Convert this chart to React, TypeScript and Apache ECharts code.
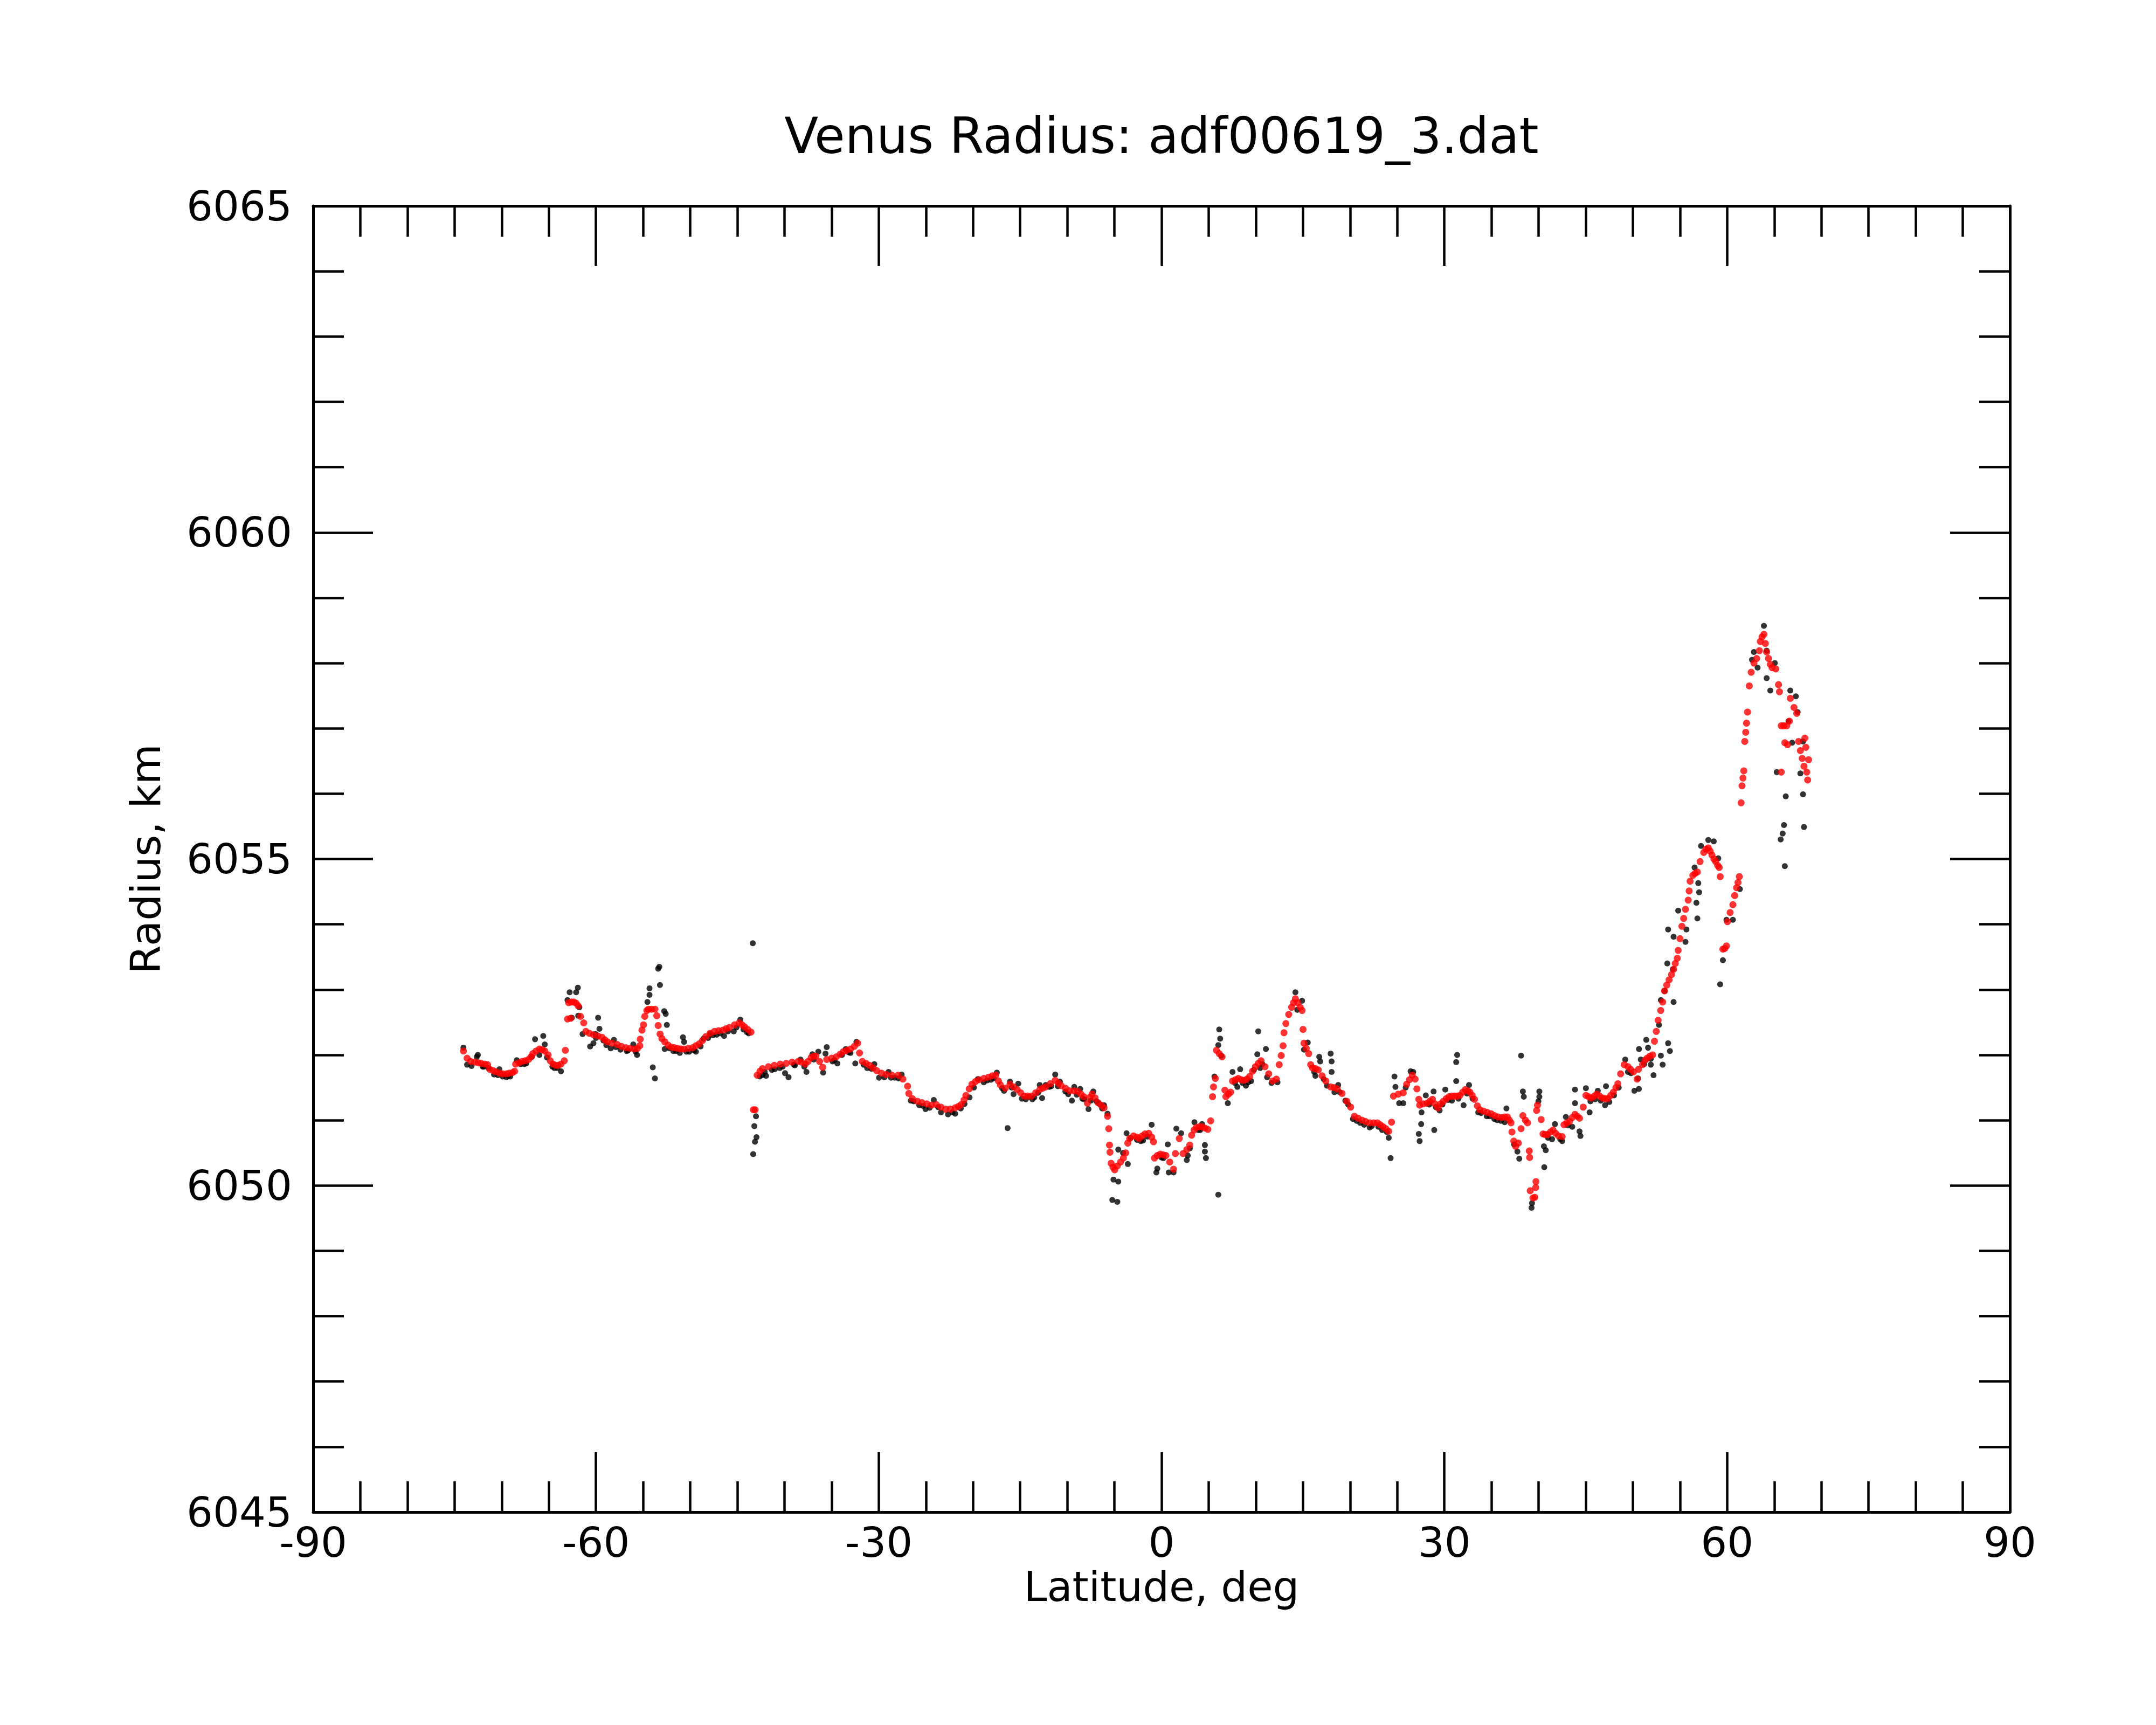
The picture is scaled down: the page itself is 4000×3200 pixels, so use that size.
import React, { useEffect, useRef } from "react";
import * as echarts from "echarts";

const titleText = "Venus Radius: adf00619_3.dat";
const xName = "Latitude, deg";
const yName = "Radius, km";
const xMin = -90, xMax = 90, xStep = 30;
const yMin = 6045, yMax = 6065, yStep = 5;

// Smoothed radius (red), [latitude, radius]
const redSouth = [
  [-74.06,6052.06],[-73.67,6051.95],[-73.3,6051.9],[-72.87,6051.89],[-72.5,6051.88],[-72.18,6051.87],[-71.8,6051.86],[-71.5,6051.85],[-71.27,6051.78],[-70.9,6051.76],[-70.58,6051.74],[-70.2,6051.72],[-69.89,6051.71],[-69.5,6051.71],[-69.2,6051.72],[-68.85,6051.73],[-68.63,6051.75],[-68.52,6051.86],[-68.15,6051.88],[-67.83,6051.9],[-67.5,6051.91],[-67.15,6051.93],[-66.9,6051.97],[-66.69,6052.02],[-66.35,6052.06],[-66.0,6052.09],[-65.7,6052.08],[-65.43,6052.06],[-65.08,6052.0],[-64.85,6051.91],[-64.55,6051.86],[-64.28,6051.84],[-64.0,6051.84],[-63.71,6051.86],[-63.36,6051.91],[-63.25,6052.07],[-63.02,6052.55],[-62.68,6052.56],[-62.9,6052.8],[-62.6,6052.81],[-62.33,6052.81],[-62.1,6052.79],[-61.88,6052.75],[-61.65,6052.59],[-61.3,6052.49],[-61.07,6052.36],[-60.7,6052.33],[-60.27,6052.31],[-59.8,6052.29],[-59.36,6052.27],[-59.05,6052.23],[-58.78,6052.2],[-58.3,6052.18],[-57.75,6052.16],[-57.3,6052.13],[-56.84,6052.11],[-56.4,6052.1],[-55.92,6052.09],[-55.6,6052.1],[-55.35,6052.14],[-55.3,6052.24],[-55.12,6052.38],[-54.96,6052.46],[-54.82,6052.59],[-54.6,6052.68],[-54.43,6052.7],[-54.1,6052.7],[-53.74,6052.7],[-53.55,6052.6],[-53.4,6052.45],[-53.2,6052.32],[-53.0,6052.25],[-52.7,6052.2],[-52.35,6052.15],[-52.0,6052.12],[-51.7,6052.11],[-51.34,6052.1],[-51.0,6052.09],[-50.65,6052.09],[-50.2,6052.1],[-49.73,6052.11],[-49.4,6052.14],[-49.05,6052.17],[-48.7,6052.22],[-48.36,6052.28],[-47.9,6052.33],[-47.44,6052.36],[-47.0,6052.37],[-46.53,6052.38],[-46.2,6052.4],[-45.84,6052.42],[-45.3,6052.46],[-44.81,6052.49],[-44.5,6052.46],[-44.24,6052.43],[-43.9,6052.39],[-43.55,6052.35],[-43.3,6051.16],[-43.12,6051.16]
];
const redMid = [
  [-42.9,6051.69],[-42.6,6051.75],[-42.34,6051.79],[-41.7,6051.82],[-41.08,6051.84],[-40.45,6051.86],[-39.82,6051.87],[-39.2,6051.89],[-38.55,6051.9],[-38.2,6051.89],[-37.8,6051.86],[-37.5,6051.9],[-37.17,6051.96],[-36.9,6051.98],[-36.66,6051.98],[-36.28,6051.9],[-35.95,6051.81],[-35.52,6051.93],[-35.0,6051.95],[-34.51,6051.97],[-34.1,6052.01],[-33.76,6052.05],[-33.4,6052.07],[-33.0,6052.09],[-32.6,6052.13],[-32.24,6052.18],[-32.04,6052.03],[-31.74,6051.9],[-31.35,6051.87],[-30.98,6051.84],[-30.6,6051.8],[-30.22,6051.76],[-29.7,6051.72],[-29.21,6051.7],[-28.6,6051.69],[-27.95,6051.69],[-27.44,6051.63],[-26.94,6051.52],[-26.81,6051.41],[-26.43,6051.33],[-25.9,6051.29],[-25.42,6051.27],[-24.9,6051.25],[-24.41,6051.23],[-23.9,6051.24],[-23.4,6051.2],[-22.9,6051.17],[-22.4,6051.17],[-21.89,6051.19],[-21.55,6051.21],[-21.26,6051.24],[-20.95,6051.31],[-20.75,6051.38],[-20.4,6051.48],[-20.12,6051.55],[-19.75,6051.59],[-19.36,6051.62],[-18.85,6051.64],[-18.35,6051.66],[-17.95,6051.68],[-17.59,6051.69],[-17.3,6051.6],[-17.09,6051.54],[-16.58,6051.49],[-16.08,6051.55],[-15.7,6051.51],[-15.32,6051.47],[-14.95,6051.42],[-14.56,6051.37],[-14.2,6051.37],[-13.81,6051.37],[-13.35,6051.42],[-12.92,6051.47],[-12.6,6051.49],[-12.29,6051.51],[-11.8,6051.56],[-11.28,6051.61],[-10.95,6051.57],[-10.65,6051.53],[-10.2,6051.49],[-9.77,6051.45],[-9.3,6051.45],[-8.88,6051.44],[-8.55,6051.4],[-8.25,6051.36],[-7.87,6051.26],[-7.6,6051.35],[-7.37,6051.4],[-7.05,6051.34],[-6.74,6051.27],[-6.4,6051.23],[-6.1,6051.19],[-5.73,6051.06],[-5.6,6050.87],[-5.52,6050.62],[-5.47,6050.51],[-5.35,6050.34],[-5.15,6050.28],[-4.97,6050.24]
];
const redEquator = [
  [-4.7,6050.3],[-4.35,6050.36],[-4.05,6050.42],[-3.8,6050.5],[-3.58,6050.65],[-3.38,6050.72],[-2.97,6050.76],[-2.6,6050.74],[-2.37,6050.72],[-2.05,6050.76],[-1.76,6050.79],[-1.36,6050.8],[-1.05,6050.74],[-0.85,6050.67],[-0.75,6050.42],[-0.45,6050.46],[-0.14,6050.48],[0.16,6050.47],[0.46,6050.46],[0.87,6050.36],[1.27,6050.25],[1.47,6050.49],[1.88,6050.72],[2.28,6050.49],[2.68,6050.55],[2.99,6050.62],[3.19,6050.77],[3.45,6050.85],[3.69,6050.89],[4.0,6050.9],[4.3,6050.9],[4.6,6050.88],[4.91,6050.86],[5.21,6050.99],[5.41,6051.36],[5.51,6051.51],[5.71,6051.64],[5.82,6052.07],[6.12,6052.02],[6.42,6051.97],[6.72,6051.46],[6.83,6051.36],[7.1,6051.4],[7.33,6051.43],[7.53,6051.6],[7.85,6051.62],[8.14,6051.64],[8.45,6051.62],[8.75,6051.61],[9.05,6051.63],[9.35,6051.67],[9.65,6051.75],[9.96,6051.82],[10.26,6051.87],[10.56,6051.91],[10.97,6051.82],[11.37,6051.71],[11.78,6051.6],[12.18,6051.63],[12.48,6051.85],[12.69,6051.99],[12.89,6052.14],[12.99,6052.34],[13.19,6052.48],[13.49,6052.62],[13.8,6052.73],[14.0,6052.8],[14.2,6052.86],[14.45,6052.8],[14.71,6052.73],[14.91,6052.68],[15.01,6052.39],[15.11,6052.18],[15.35,6052.1],[15.61,6052.02],[15.82,6051.85],[16.02,6051.8],[16.33,6051.79],[16.63,6051.77],[17.03,6051.68],[17.43,6051.6],[17.94,6051.51],[18.3,6051.5],[18.64,6051.48],[19.15,6051.41],[19.65,6051.29],[20.06,6051.2],[20.46,6051.06],[20.85,6051.03],[21.27,6051.0],[21.65,6050.98],[22.08,6050.96],[22.5,6050.96],[22.89,6050.96],[23.2,6050.93],[23.49,6050.9],[23.8,6050.87],[24.1,6050.83],[24.4,6050.97]
];
const redNorth = [
  [24.6,6051.37],[25.11,6051.4],[25.64,6051.42],[26.0,6051.55],[26.3,6051.62],[26.6,6051.69],[26.9,6051.63],[27.09,6051.48],[27.29,6051.32],[27.38,6051.23],[27.75,6051.25],[28.16,6051.26],[28.45,6051.29],[28.74,6051.32],[29.0,6051.25],[29.32,6051.19],[29.6,6051.25],[29.9,6051.29],[30.2,6051.33],[30.49,6051.36],[30.8,6051.37],[31.07,6051.37],[31.35,6051.37],[31.65,6051.38],[31.95,6051.43],[32.23,6051.47],[32.5,6051.45],[32.71,6051.43],[32.95,6051.38],[33.2,6051.32],[33.5,6051.22],[33.78,6051.16],[34.15,6051.14],[34.55,6051.12],[34.95,6051.1],[35.33,6051.07],[35.7,6051.05],[36.11,6051.04],[36.4,6051.05],[36.69,6051.05],[36.9,6051.0],[37.07,6050.96],[37.17,6050.82],[37.37,6050.68],[37.56,6050.6],[37.85,6050.65],[38.14,6050.87],[38.33,6051.07],[38.6,6051.0],[38.82,6050.96],[39.01,6050.53],[39.05,6050.43],[39.11,6049.92],[39.4,6049.81],[39.6,6049.82],[39.69,6049.97],[39.72,6050.06],[39.79,6051.15],[39.88,6051.23],[40.27,6051.01],[40.47,6050.79],[40.7,6050.78],[40.95,6050.78],[41.25,6050.82],[41.53,6050.85],[41.8,6050.8],[42.11,6050.76],[42.5,6050.75],[42.69,6050.93],[43.0,6050.96],[43.28,6050.98],[43.56,6051.04],[43.86,6051.09],[44.1,6051.06],[44.34,6051.03],[44.73,6051.2],[45.02,6051.38],[45.3,6051.36],[45.6,6051.34],[45.9,6051.37],[46.18,6051.4],[46.47,6051.37],[46.76,6051.34],[47.05,6051.33],[47.35,6051.33],[47.65,6051.38],[47.93,6051.43],[48.2,6051.5],[48.41,6051.56],[48.7,6051.71],[49.09,6051.85],[49.48,6051.82],[49.75,6051.78],[50.06,6051.74],[50.45,6051.63],[50.6,6051.78],[51.03,6051.85],[51.3,6051.92],[51.51,6051.95],[51.8,6051.98],[52.09,6052.0],[52.29,6052.21],[52.48,6052.36],[52.68,6052.53],[52.95,6052.68],[53.16,6052.81],[53.36,6052.98],[53.6,6053.07],[53.84,6053.15],[54.1,6053.23],[54.32,6053.31],[54.5,6053.4],[54.71,6053.48],[54.8,6053.6],[55.0,6053.78],[55.2,6053.97],[55.39,6054.09],[55.58,6054.23],[55.87,6054.37],[55.97,6054.51],[56.07,6054.66],[56.36,6054.75],[56.6,6054.78],[56.84,6054.8],[57.13,6054.96],[57.52,6055.1],[57.75,6055.15],[58.0,6055.17],[58.2,6055.12],[58.39,6055.06],[58.6,6055.0],[58.78,6054.96],[59.0,6054.9],[59.16,6054.87],[59.26,6054.73],[59.55,6053.62],[59.75,6053.63],[59.93,6053.67],[60.03,6054.04],[60.32,6054.18],[60.61,6054.3],[60.8,6054.44],[61.0,6054.56],[61.15,6054.64],[61.29,6054.73]
];
const redPolar = [
  [61.48,6055.86],[61.58,6056.12],[61.68,6056.24],[61.77,6056.35],[61.87,6056.8],[61.97,6056.94],[62.06,6057.08],[62.16,6057.25],[62.35,6057.65],[62.55,6057.86],[62.84,6058.0],[63.13,6058.07],[63.42,6058.19],[63.52,6058.33],[63.7,6058.4],[63.9,6058.44],[64.05,6058.3],[64.19,6058.17],[64.39,6058.07],[64.58,6057.98],[64.77,6057.93],[65.16,6057.91],[65.45,6057.67],[65.55,6057.56],[65.74,6057.04],[66.0,6057.04],[66.32,6057.04],[66.61,6057.11],[66.7,6057.46],[67.09,6057.32],[67.38,6057.23],[66.12,6056.78],[66.41,6056.75],[67.58,6056.8],[68.25,6056.85],[67.77,6056.66],[68.35,6056.71],[67.96,6056.54],[68.64,6056.52],[68.15,6056.42],[68.45,6056.33],[68.54,6056.21],[65.74,6056.33]
];

// Raw radius samples (black), [latitude, radius]
const blackSouth = [
  [-74.06,6052.11],[-73.67,6051.85],[-73.2,6051.83],[-72.64,6051.97],[-72.53,6052.0],[-72.0,6051.82],[-71.9,6051.82],[-71.4,6051.8],[-70.81,6051.7],[-70.4,6051.69],[-70.24,6051.78],[-69.89,6051.67],[-69.5,6051.66],[-69.3,6051.68],[-69.09,6051.67],[-68.4,6051.92],[-68.0,6051.86],[-67.6,6051.86],[-67.4,6051.87],[-66.8,6051.97],[-66.46,6052.24],[-66.0,6052.0],[-65.59,6052.29],[-65.43,6052.16],[-65.2,6051.96],[-64.62,6051.82],[-64.4,6051.8],[-64.1,6051.8],[-63.71,6051.75],[-63.02,6052.84],[-62.79,6052.96],[-62.56,6052.57],[-62.1,6052.96],[-61.92,6053.03],[-61.88,6052.6],[-61.76,6052.73],[-61.42,6052.32],[-60.62,6052.13],[-60.27,6052.18],[-60.04,6052.32],[-60.0,6052.26],[-59.77,6052.57],[-59.63,6052.4],[-59.2,6052.22],[-58.9,6052.15],[-58.44,6052.1],[-58.1,6052.23],[-57.9,6052.12],[-57.4,6052.08],[-56.73,6052.06],[-56.6,6052.07],[-56.04,6052.16],[-55.8,6052.05],[-55.64,6052.0],[-54.54,6052.81],[-54.32,6053.02],[-54.32,6052.92],[-53.97,6051.81],[-53.74,6051.64],[-53.4,6053.32],[-53.28,6053.35],[-53.21,6053.07],[-52.76,6052.67],[-52.6,6052.63],[-52.48,6052.46],[-52.71,6052.09],[-52.2,6052.1],[-51.79,6052.06],[-51.5,6052.06],[-51.11,6052.03],[-50.77,6052.27],[-50.65,6052.2],[-50.4,6052.05],[-50.1,6052.05],[-49.6,6052.07],[-49.39,6052.05],[-48.9,6052.13],[-48.59,6052.25],[-48.1,6052.26],[-47.9,6052.32],[-47.6,6052.3],[-47.2,6052.31],[-46.8,6052.33],[-46.41,6052.29],[-46.0,6052.36],[-45.38,6052.36],[-45.1,6052.42],[-44.69,6052.54],[-44.35,6052.39],[-44.0,6052.35],[-43.8,6052.33],[-43.36,6053.71],[-43.02,6051.06],[-43.2,6050.91],[-42.97,6050.74],[-43.13,6050.67],[-43.32,6050.48]
];
const blackMid = [
  [-42.63,6051.67],[-42.34,6051.69],[-42.1,6051.74],[-41.95,6051.68],[-41.33,6051.77],[-41.03,6051.78],[-40.5,6051.8],[-40.2,6051.82],[-39.94,6051.72],[-39.57,6051.66],[-39.0,6051.85],[-38.9,6051.84],[-38.3,6051.93],[-37.9,6051.82],[-37.67,6051.74],[-37.04,6052.01],[-36.9,6051.93],[-36.41,6052.05],[-35.9,6051.73],[-35.65,6052.02],[-35.52,6052.12],[-34.9,6051.9],[-34.7,6051.92],[-34.39,6051.87],[-33.9,6052.0],[-33.5,6052.09],[-33.2,6052.04],[-33.0,6052.03],[-32.49,6051.87],[-32.37,6052.2],[-31.6,6051.85],[-31.23,6051.8],[-30.8,6051.79],[-30.47,6051.86],[-29.97,6051.65],[-29.4,6051.66],[-28.96,6051.74],[-28.7,6051.65],[-28.3,6051.65],[-27.9,6051.64],[-27.57,6051.7],[-26.6,6051.3],[-26.3,6051.29],[-25.7,6051.23],[-25.3,6051.22],[-25.04,6051.17],[-24.6,6051.19],[-24.16,6051.31],[-23.7,6051.2],[-23.4,6051.12],[-22.65,6051.09],[-22.2,6051.12],[-21.89,6051.1],[-21.3,6051.18],[-20.9,6051.25],[-20.37,6051.35],[-19.9,6051.5],[-19.49,6051.63],[-18.86,6051.58],[-18.5,6051.61],[-18.1,6051.62],[-17.8,6051.64],[-17.47,6051.73],[-16.9,6051.49],[-16.71,6051.45],[-16.33,6050.88],[-16.08,6051.59],[-15.9,6051.5],[-15.7,6051.4],[-15.2,6051.56],[-14.82,6051.33],[-14.4,6051.32],[-14.06,6051.36],[-13.7,6051.32],[-13.5,6051.35],[-13.1,6051.42],[-12.92,6051.54],[-12.67,6051.34],[-12.29,6051.54],[-11.9,6051.51],[-11.7,6051.52],[-11.28,6051.7],[-11.0,6051.52],[-10.78,6051.59],[-10.2,6051.44],[-9.9,6051.4],[-9.51,6051.3],[-9.26,6051.51],[-9.0,6051.39],[-8.63,6051.48],[-8.4,6051.33],[-8.2,6051.32],[-7.75,6051.17],[-7.5,6051.3],[-7.24,6051.44],[-6.9,6051.29],[-6.6,6051.25],[-6.3,6051.18],[-6.1,6051.23],[-5.73,6051.1],[-5.1,6050.09],[-5.22,6049.78],[-4.59,6050.55]
];
const blackEquator = [
  [-4.59,6050.06],[-4.69,6049.75],[-4.08,6050.5],[-3.71,6050.8],[-3.58,6050.33],[-3.27,6050.73],[-2.6,6050.7],[-2.2,6050.68],[-1.96,6050.69],[-1.5,6050.75],[-1.05,6050.93],[-0.55,6050.2],[-0.45,6050.26],[0.0,6050.43],[0.2,6050.42],[0.66,6050.63],[0.77,6050.2],[1.27,6050.2],[1.57,6050.87],[2.08,6050.8],[2.68,6050.39],[2.78,6050.46],[3.0,6050.57],[3.49,6050.97],[3.9,6050.85],[4.1,6050.85],[4.3,6050.94],[4.6,6050.62],[4.6,6050.52],[4.71,6050.42],[5.61,6051.67],[6.02,6049.86],[6.12,6052.39],[6.22,6052.25],[6.02,6052.15],[6.32,6051.99],[7.03,6051.26],[7.53,6051.74],[7.8,6051.57],[8.04,6051.51],[8.34,6051.78],[8.6,6051.57],[8.95,6051.53],[9.2,6051.58],[9.5,6051.6],[9.8,6051.77],[10.16,6052.01],[10.26,6052.36],[10.46,6051.8],[10.7,6051.86],[11.07,6052.09],[11.2,6051.66],[11.67,6051.57],[12.3,6051.58],[14.2,6052.96],[14.4,6052.69],[14.91,6052.83],[15.11,6052.08],[15.51,6052.19],[16.2,6051.74],[16.32,6051.68],[16.73,6051.97],[16.83,6051.9],[17.2,6051.63],[17.54,6051.53],[17.94,6052.02],[18.04,6051.9],[18.04,6051.74],[18.34,6051.43],[18.74,6051.54],[18.9,6051.43],[19.5,6051.3],[19.8,6051.24],[20.3,6051.02],[20.7,6050.99],[21.07,6050.96],[21.5,6050.93],[22.08,6050.89],[22.3,6050.91],[23.0,6050.9],[23.4,6050.85],[23.9,6050.82],[24.1,6050.73],[24.3,6050.42]
];
const blackNorth = [
  [24.71,6051.67],[24.81,6051.51],[25.21,6051.26],[25.64,6051.26],[25.9,6051.5],[26.42,6051.75],[26.7,6051.74],[27.29,6050.79],[27.38,6050.68],[27.54,6050.94],[27.58,6051.12],[28.03,6051.38],[28.4,6051.24],[28.86,6051.44],[28.93,6050.85],[29.1,6051.2],[29.5,6051.15],[29.8,6051.24],[30.1,6051.47],[30.4,6051.31],[30.8,6051.3],[31.26,6051.89],[31.36,6052.0],[31.26,6051.6],[31.5,6051.33],[32.04,6051.23],[32.4,6051.41],[32.62,6051.54],[33.0,6051.33],[33.6,6051.12],[33.9,6051.11],[34.5,6051.06],[34.8,6051.06],[35.3,6051.02],[35.6,6051.0],[36.0,6050.99],[36.4,6050.97],[36.59,6051.18],[37.4,6050.63],[37.75,6050.52],[37.95,6050.41],[38.14,6051.99],[38.33,6051.44],[38.43,6051.36],[39.25,6049.66],[39.3,6049.73],[39.98,6051.29],[40.08,6051.36],[40.08,6051.44],[40.56,6050.6],[40.6,6050.28],[40.76,6050.54],[41.0,6050.73],[41.43,6050.71],[41.73,6050.94],[42.3,6050.71],[42.5,6050.68],[42.89,6051.05],[43.1,6050.92],[43.57,6050.9],[43.86,6051.26],[43.86,6051.47],[44.34,6050.83],[44.44,6050.76],[45.02,6051.49],[45.41,6051.12],[45.5,6051.29],[46.0,6051.32],[46.28,6051.45],[46.6,6051.3],[47.05,6051.23],[47.15,6051.52],[47.5,6051.28],[48.0,6051.38],[48.5,6051.5],[49.19,6051.93],[49.48,6051.74],[49.8,6051.72],[50.16,6051.45],[50.55,6051.64],[50.64,6051.48],[50.65,6052.09],[50.84,6051.93],[51.2,6051.86],[51.42,6052.23],[51.61,6052.11],[51.9,6051.85],[51.9,6051.94],[52.19,6051.69],[52.77,6052.46],[52.97,6051.99],[52.97,6052.84],[53.16,6051.85],[53.36,6052.98],[53.65,6053.4],[53.74,6052.18],[53.74,6053.92],[53.93,6052.06],[54.23,6053.31],[54.32,6052.81],[54.32,6053.81],[54.81,6054.21],[55.58,6053.73],[55.68,6053.92],[56.55,6054.87],[56.74,6054.33],[56.84,6054.09],[56.94,6054.63],[57.03,6054.49],[57.23,6055.2],[58.0,6055.29],[58.58,6055.27],[59.06,6055.01],[59.26,6053.08],[59.55,6053.45],[59.93,6054.07],[60.61,6054.07],[61.35,6054.54]
];
const blackPolar = [
  [62.64,6058.05],[62.84,6058.17],[63.23,6057.93],[63.9,6058.57],[64.19,6058.19],[64.19,6057.77],[64.58,6057.58],[65.06,6058.0],[65.26,6056.33],[65.68,6055.3],[65.89,6055.39],[66.03,6055.52],[66.12,6054.89],[66.22,6055.96],[66.51,6057.11],[66.7,6057.58],[66.9,6056.78],[67.29,6057.49],[67.48,6057.25],[67.77,6056.31],[68.05,6056.8],[68.05,6055.99],[68.15,6055.49]
];

const FONT = "DejaVu Sans";
const INK = "#000000";

function makeXAxis(position: string, withLabels: boolean) {
  return {
    type: "value",
    position,
    min: xMin,
    max: xMax,
    interval: xStep,
    axisLine: { show: true, onZero: false, lineStyle: { color: INK, width: 5 } },
    axisTick: { show: true, inside: true, length: 111, lineStyle: { color: INK, width: 4.5 } },
    minorTick: { show: true, splitNumber: 6, length: 57, lineStyle: { color: INK, width: 4.5 } },
    splitLine: { show: false },
    minorSplitLine: { show: false },
    axisLabel: {
      show: withLabels,
      color: INK,
      fontSize: 77,
      fontFamily: FONT,
      margin: 18,
      formatter: (v: number) => String(v),
    },
    name: withLabels ? xName : "",
    nameLocation: "middle",
    nameGap: 98,
    nameTextStyle: { color: INK, fontSize: 77, fontFamily: FONT },
  };
}

function makeYAxis(position: string, withLabels: boolean) {
  return {
    type: "value",
    position,
    min: yMin,
    max: yMax,
    interval: yStep,
    axisLine: { show: true, onZero: false, lineStyle: { color: INK, width: 5 } },
    axisTick: { show: true, inside: true, length: 111, lineStyle: { color: INK, width: 4.5 } },
    minorTick: { show: true, splitNumber: 5, length: 57, lineStyle: { color: INK, width: 4.5 } },
    splitLine: { show: false },
    minorSplitLine: { show: false },
    axisLabel: {
      show: withLabels,
      color: INK,
      fontSize: 77,
      fontFamily: FONT,
      margin: 39,
      formatter: (v: number) => String(v),
    },
    name: withLabels ? yName : "",
    nameLocation: "middle",
    nameGap: 272,
    nameRotate: 90,
    nameTextStyle: { color: INK, fontSize: 77, fontFamily: FONT },
  };
}

export default function App() {
  const ref = useRef<HTMLDivElement>(null);
  useEffect(() => {
    if (!ref.current) return;
    const chart = echarts.init(ref.current, undefined, { renderer: "svg" });
    const redData = [...redSouth, ...redMid, ...redEquator, ...redNorth, ...redPolar];
    const blackData = [...blackSouth, ...blackMid, ...blackEquator, ...blackNorth, ...blackPolar];
    chart.setOption({
      animation: false,
      backgroundColor: "#ffffff",
      grid: { left: 581, right: 271, top: 382, bottom: 395, containLabel: false },
      xAxis: [makeXAxis("bottom", true), makeXAxis("top", false)],
      yAxis: [makeYAxis("left", true), makeYAxis("right", false)],
      graphic: [
        {
          type: "text",
          x: 2155,
          y: 252,
          style: {
            text: titleText,
            fontSize: 92,
            fontFamily: FONT,
            fill: INK,
            align: "center",
            verticalAlign: "middle",
          },
        },
      ],
      series: [
        {
          name: "raw",
          type: "scatter",
          xAxisIndex: 0,
          yAxisIndex: 0,
          symbol: "circle",
          symbolSize: 11,
          itemStyle: { color: INK },
          data: blackData,
          z: 2,
        },
        {
          name: "smoothed",
          type: "scatter",
          xAxisIndex: 0,
          yAxisIndex: 0,
          symbol: "circle",
          symbolSize: 13,
          itemStyle: { color: "#ff0000" },
          data: redData,
          z: 3,
        },
      ],
    });
    return () => chart.dispose();
  }, []);
  return (
    <div
      ref={ref}
      style={{ position: "fixed", left: 0, top: 0, width: 4000, height: 3200, background: "#fff" }}
    />
  );
}
